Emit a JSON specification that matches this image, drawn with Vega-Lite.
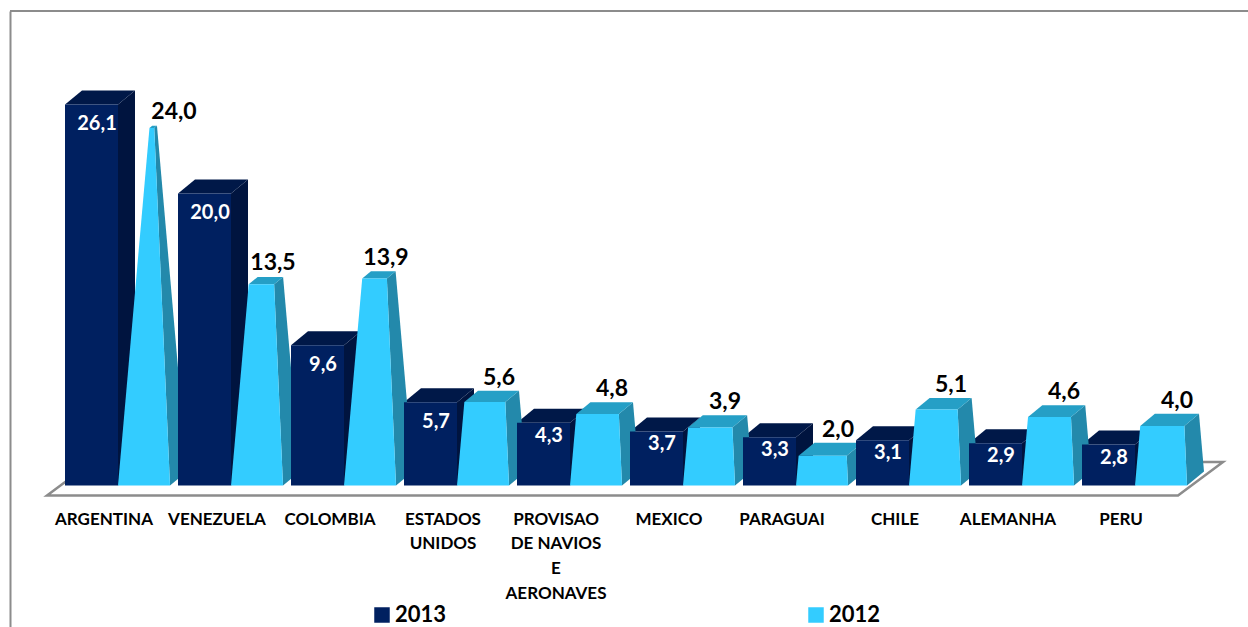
{
"$schema":"https://vega.github.io/schema/vega-lite/v6.json",
"width":1238,"height":616,
"autosize":"none",
"padding":{"left":10,"top":11,"right":0,"bottom":0},
"background":"white",
"config":{"view":{"stroke":null},"font":"Lato"},
"data":{"values":[
{"pais":"ARGENTINA","ano":"2013","v":26.1},{"pais":"ARGENTINA","ano":"2012","v":24.0},
{"pais":"VENEZUELA","ano":"2013","v":20.0},{"pais":"VENEZUELA","ano":"2012","v":13.5},
{"pais":"COLOMBIA","ano":"2013","v":9.6},{"pais":"COLOMBIA","ano":"2012","v":13.9},
{"pais":"ESTADOS UNIDOS","ano":"2013","v":5.7},{"pais":"ESTADOS UNIDOS","ano":"2012","v":5.6},
{"pais":"PROVISAO DE NAVIOS E AERONAVES","ano":"2013","v":4.3},{"pais":"PROVISAO DE NAVIOS E AERONAVES","ano":"2012","v":4.8},
{"pais":"MEXICO","ano":"2013","v":3.7},{"pais":"MEXICO","ano":"2012","v":3.9},
{"pais":"PARAGUAI","ano":"2013","v":3.3},{"pais":"PARAGUAI","ano":"2012","v":2.0},
{"pais":"CHILE","ano":"2013","v":3.1},{"pais":"CHILE","ano":"2012","v":5.1},
{"pais":"ALEMANHA","ano":"2013","v":2.9},{"pais":"ALEMANHA","ano":"2012","v":4.6},
{"pais":"PERU","ano":"2013","v":2.8},{"pais":"PERU","ano":"2012","v":4.0}
]},
"encoding":{"x":{"field":"pais","type":"nominal","sort":null,
 "scale":{"domain":["ARGENTINA","VENEZUELA","COLOMBIA","ESTADOS UNIDOS","PROVISAO DE NAVIOS E AERONAVES","MEXICO","PARAGUAI","CHILE","ALEMANHA","PERU"],"range":[51.5,1181.5],"paddingInner":0,"paddingOuter":0},
 "axis":{"title":null,"orient":"bottom","offset":-116,"domain":false,"ticks":false,"grid":false,"labelAngle":0,"labelPadding":0,"labelBaseline":"top","labelAlign":"center","labelOffset":-14,"labelFont":"Lato","labelFontWeight":"bold","labelFontSize":17,"labelColor":"#000000","labelLineHeight":24.7,"labelOverlap":false,"labelBound":false,"labelFlush":false,"labelLimit":0,
 "labelExpr":"datum.label=='ESTADOS UNIDOS'?['ESTADOS','UNIDOS']:datum.label=='PROVISAO DE NAVIOS E AERONAVES'?['PROVISAO','DE NAVIOS','E','AERONAVES']:datum.label"}}},
"resolve":{"scale":{"y":"independent"}},
"layer":[
{"transform":[{"filter":"datum.pais=='ARGENTINA'&&datum.ano=='2013'"}],
 "mark":{"type":"point","filled":true,"opacity":1,"size":4,"fill":"#ffffff","stroke":"#8c8c8c","strokeWidth":2.5,"shape":"M-71,10L1060,10L1105,-23.5L-26,-23.5Z"},
 "encoding":{"y":{"datum":0,"type":"quantitative","scale":{"domain":[-9.692,32.5],"nice":false,"zero":false},
   "axis":{"title":null,"orient":"left","domain":true,"domainColor":"#8c8c8c","domainWidth":2,"ticks":false,"labels":false,"grid":false}}}},
{"transform":[{"filter":"datum.pais=='ARGENTINA'&&datum.ano=='2013'"}],
 "mark":{"type":"rule","color":"#8c8c8c","strokeWidth":2},
 "encoding":{"x":null,"y":{"datum":32.5,"type":"quantitative","scale":{"domain":[-9.692,32.5],"nice":false,"zero":false},"axis":null}}},
{"transform":[{"filter":"datum.ano=='2013'"}],
 "mark":{"type":"point","filled":true,"opacity":1,"size":4,"fill":"#00143f","strokeWidth":0,"shape":{"expr":"'M0,0L17,-14L17,'+(14.6*datum.v-14)+'L0,'+(14.6*datum.v)+'Z'"}},
 "encoding":{"y":{"field":"v","type":"quantitative","scale":{"domain":[-9.692,32.5],"nice":false,"zero":false},"axis":null}}},
{"transform":[{"filter":"datum.ano=='2013'"}],
 "mark":{"type":"point","filled":true,"opacity":1,"size":4,"fill":"#001848","strokeWidth":0,"shape":"M-53,0L-36,-14L17,-14L0,0Z"},
 "encoding":{"y":{"field":"v","type":"quantitative","scale":{"domain":[-9.692,32.5],"nice":false,"zero":false},"axis":null}}},
{"transform":[{"filter":"datum.ano=='2012'"}],
 "mark":{"type":"point","filled":true,"opacity":1,"size":4,"fill":"#2389ab","strokeWidth":0,"shape":{"expr":"'M'+(52-0.6556*datum.v)+',0L'+(69-1.2516*datum.v)+','+(-14+0.4908*datum.v)+'L69,'+(14.9*datum.v-14)+'L52,'+(14.9*datum.v)+'Z'"}},
 "encoding":{"y":{"field":"v","type":"quantitative","scale":{"domain":[-9.497,31.846],"nice":false,"zero":false},"axis":null}}},
{"transform":[{"filter":"datum.ano=='2012'"}],
 "mark":{"type":"point","filled":true,"opacity":1,"size":4,"fill":"#259fc6","strokeWidth":0,"shape":{"expr":"'M'+(1.3112*datum.v)+',0L'+(17+0.7152*datum.v)+','+(-14+0.4908*datum.v)+'L'+(69-1.2516*datum.v)+','+(-14+0.4908*datum.v)+'L'+(52-0.6556*datum.v)+',0Z'"}},
 "encoding":{"y":{"field":"v","type":"quantitative","scale":{"domain":[-9.497,31.846],"nice":false,"zero":false},"axis":null}}},
{"transform":[{"filter":"datum.ano=='2012'"}],
 "mark":{"type":"point","filled":true,"opacity":1,"size":4,"strokeWidth":0,"shape":{"expr":"'M'+(1.3112*datum.v)+',0L'+(52-0.6556*datum.v)+',0L52,'+(14.9*datum.v)+'L0,'+(14.9*datum.v)+'Z'"}},
 "encoding":{"y":{"field":"v","type":"quantitative","scale":{"domain":[-9.497,31.846],"nice":false,"zero":false},"axis":null},
  "color":{"field":"ano","type":"nominal","scale":{"domain":["2013","2012"],"range":["#002060","#33ccff"]},
   "legend":{"title":null,"orient":"none","legendX":361,"legendY":595,"direction":"horizontal","columns":2,"columnPadding":358,"symbolType":"square","symbolSize":240,"symbolStrokeWidth":0,"labelFont":"Lato","labelFontWeight":"bold","labelFontSize":22,"labelColor":"#000000","labelOffset":2,"padding":0,"clipHeight":18}}}},
{"transform":[{"filter":"datum.ano=='2013'"}],
 "mark":{"type":"bar","width":53,"xOffset":-26.5},
 "encoding":{"y":{"field":"v","type":"quantitative","scale":{"domain":[-9.692,32.5],"nice":false,"zero":false},"axis":null},
  "color":{"field":"ano","type":"nominal"}}},
{"transform":[{"filter":"datum.ano=='2013'"}],
 "mark":{"type":"text","font":"Lato","fontWeight":"bold","fontSize":20,"color":"#ffffff","align":"center","baseline":"middle","dx":-21,"dy":{"expr":"datum.v<5?13:20"},"text":{"expr":"replace(format(datum.v,'.1f'),'.',',')"}},
 "encoding":{"y":{"field":"v","type":"quantitative","scale":{"domain":[-9.692,32.5],"nice":false,"zero":false},"axis":null}}},
{"transform":[{"filter":"datum.ano=='2012'"}],
 "mark":{"type":"text","font":"Lato","fontWeight":"bold","fontSize":23,"color":"#000000","align":"center","baseline":"middle","dx":{"expr":"datum.v>20?56:42"},"dy":{"expr":"-27+0.45*datum.v"},"text":{"expr":"replace(format(datum.v,'.1f'),'.',',')"}},
 "encoding":{"y":{"field":"v","type":"quantitative","scale":{"domain":[-9.497,31.846],"nice":false,"zero":false},"axis":null}}}
]
}
